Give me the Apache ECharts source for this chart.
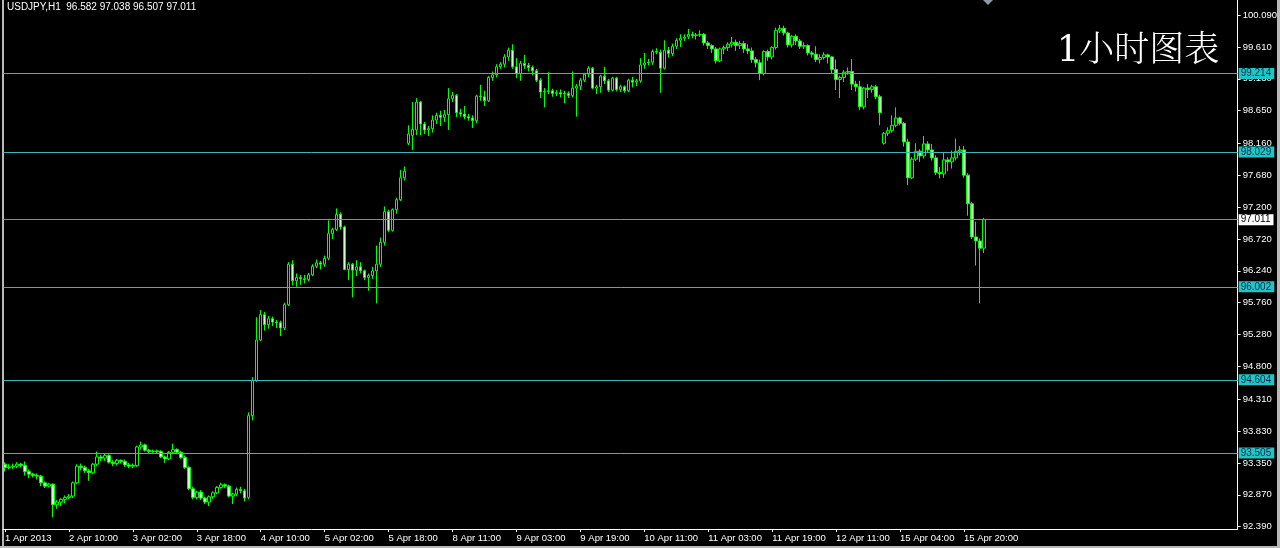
<!DOCTYPE html>
<html><head><meta charset="utf-8">
<script src="https://cdn.jsdelivr.net/npm/echarts@6/dist/echarts.min.js"></script>
<style>html,body{margin:0;padding:0;background:#000;}#c{width:1280px;height:548px;}</style>
</head><body><div id="c"></div>
<script>
const symbolTitle = 'USDJPY,H1  96.582 97.038 96.507 97.011';
const chartTitle = '1小时图表';
const xTickLabels = ['1 Apr 2013','2 Apr 10:00','3 Apr 02:00','3 Apr 18:00','4 Apr 10:00','5 Apr 02:00','5 Apr 18:00','8 Apr 11:00','9 Apr 03:00','9 Apr 19:00','10 Apr 11:00','11 Apr 03:00','11 Apr 19:00','12 Apr 11:00','15 Apr 04:00','15 Apr 20:00'];
const barsPerTick = 16;
const slotCount = 309;
const yTickValues = [92.39,92.87,93.35,93.83,94.31,94.80,95.28,95.76,96.24,96.72,97.20,97.68,98.16,98.65,99.13,99.61,100.09];
const levelLines = [99.214, 98.029, 96.002, 94.604, 93.505];
const bidLine = 97.011;

const opens = [
93.33,93.28,93.29,93.30,93.33,93.31,93.22,93.18,93.16,93.15,
93.05,93.00,93.03,92.72,92.76,92.80,92.83,92.85,93.05,93.30,
93.28,93.23,93.20,93.33,93.44,93.42,93.46,93.36,93.34,93.39,
93.37,93.32,93.30,93.31,93.59,93.62,93.54,93.52,93.53,93.52,
93.44,93.41,93.51,93.55,93.51,93.43,93.28,92.96,92.83,92.91,
92.82,92.76,92.84,92.90,92.98,93.02,93.00,92.85,92.88,92.95,
92.93,92.83,94.06,94.59,95.20,95.58,95.43,95.52,95.47,95.46,
95.38,95.73,96.34,96.09,96.14,96.12,96.11,96.18,96.31,96.36,
96.34,96.43,96.80,96.86,97.09,96.90,96.26,96.34,96.25,96.30,
96.24,96.14,96.17,96.24,96.34,96.67,97.13,96.85,97.16,97.31,
97.64,98.16,98.28,98.36,98.78,98.45,98.36,98.38,98.51,98.58,
98.55,98.59,98.83,98.88,98.62,98.60,98.56,98.54,98.50,98.87,
98.86,98.80,99.15,99.19,99.31,99.35,99.46,99.56,99.31,99.21,
99.36,99.33,99.30,99.25,99.11,98.93,98.94,98.95,98.91,98.92,
98.90,98.91,98.88,98.99,99.02,99.11,99.20,99.29,98.99,99.01,
99.17,99.10,98.96,99.14,98.97,99.01,98.95,99.11,99.08,99.10,
99.34,99.37,99.38,99.54,99.53,99.29,99.56,99.51,99.62,99.71,
99.74,99.76,99.80,99.78,99.79,99.80,99.67,99.63,99.58,99.40,
99.58,99.60,99.65,99.68,99.63,99.66,99.58,99.55,99.42,99.37,
99.21,99.54,99.46,99.60,99.86,99.89,99.82,99.64,99.77,99.70,
99.62,99.63,99.52,99.50,99.42,99.45,99.49,99.46,99.27,99.12,
99.15,99.23,99.24,99.05,99.01,98.71,98.99,98.97,99.01,98.86,
98.16,98.31,98.35,98.43,98.54,98.46,98.18,97.64,97.92,98.04,
97.97,98.15,98.06,97.94,97.72,97.70,97.91,97.88,97.94,98.04,
98.06,97.68,97.25,96.75,96.69,96.582];
const highs = [
93.36,93.33,93.34,93.36,93.35,93.37,93.25,93.20,93.19,93.17,
93.07,93.05,93.04,92.79,92.82,92.86,92.88,93.07,93.33,93.34,
93.31,93.26,93.35,93.52,93.47,93.49,93.48,93.39,93.41,93.40,
93.40,93.35,93.34,93.61,93.67,93.64,93.56,93.55,93.55,93.54,
93.46,93.53,93.64,93.57,93.53,93.46,93.30,92.99,92.93,92.94,
92.84,92.86,92.92,93.00,93.05,93.04,93.02,92.90,92.98,92.99,
92.96,94.11,94.64,95.54,95.65,95.62,95.56,95.55,95.50,95.49,
95.76,96.37,96.40,96.20,96.18,96.18,96.21,96.34,96.41,96.39,
96.47,97.00,96.89,97.18,97.12,96.92,96.37,96.36,96.40,96.37,
96.26,96.20,96.30,96.62,96.74,97.21,97.16,97.18,97.34,97.76,
97.81,98.43,98.78,98.84,98.80,98.48,98.42,98.58,98.62,98.65,
98.66,98.99,98.93,98.90,98.68,98.72,98.60,98.58,98.89,99.04,
98.95,99.17,99.24,99.35,99.38,99.50,99.60,99.65,99.44,99.40,
99.49,99.37,99.33,99.28,99.14,98.99,99.23,98.98,98.96,98.97,
98.95,98.94,99.24,99.05,99.14,99.22,99.32,99.31,99.04,99.19,
99.31,99.13,99.16,99.16,99.04,99.03,99.13,99.16,99.13,99.44,
99.52,99.43,99.57,99.59,99.57,99.71,99.61,99.66,99.74,99.80,
99.80,99.88,99.84,99.82,99.86,99.82,99.70,99.65,99.61,99.60,
99.63,99.68,99.76,99.72,99.70,99.70,99.65,99.60,99.46,99.42,
99.56,99.57,99.62,99.90,99.94,99.93,99.84,99.79,99.80,99.73,
99.68,99.65,99.55,99.62,99.50,99.53,99.51,99.47,99.42,99.18,
99.26,99.30,99.43,99.10,99.10,99.01,99.05,99.04,99.04,98.89,
98.33,98.40,98.58,98.70,98.56,98.48,98.23,97.95,98.16,98.07,
98.27,98.19,98.15,97.98,97.80,98.03,97.95,98.05,98.23,98.12,
98.12,97.71,97.28,96.98,96.73,97.038];
const lows = [
93.22,93.25,93.26,93.27,93.28,93.16,93.12,93.13,93.10,93.00,
92.97,92.98,92.53,92.66,92.70,92.74,92.80,92.82,93.03,93.24,
93.20,93.08,93.18,93.30,93.38,93.38,93.34,93.30,93.31,93.34,
93.29,93.27,93.27,93.29,93.55,93.52,93.49,93.50,93.49,93.42,
93.35,93.39,93.49,93.48,93.41,93.26,92.94,92.80,92.80,92.79,
92.73,92.70,92.81,92.88,92.96,92.97,92.83,92.73,92.85,92.89,
92.77,92.80,93.99,94.57,95.18,95.34,95.37,95.41,95.38,95.26,
95.35,95.71,96.02,96.00,96.03,96.05,96.08,96.16,96.28,96.26,
96.30,96.40,96.72,96.84,96.86,96.25,96.10,95.84,96.16,96.20,
96.10,95.94,96.12,95.75,96.30,96.62,96.82,96.83,97.10,97.29,
97.60,98.13,98.06,98.28,98.28,98.30,98.27,98.32,98.45,98.42,
98.48,98.36,98.78,98.55,98.56,98.52,98.50,98.39,98.46,98.80,
98.72,98.78,99.10,99.15,99.28,99.30,99.40,99.28,99.14,99.10,
99.28,99.24,99.18,99.08,98.84,98.70,98.90,98.86,98.87,98.85,
98.76,98.84,98.85,98.56,98.96,99.08,99.15,98.97,98.90,98.92,
99.05,98.93,98.94,98.94,98.93,98.92,98.93,99.00,99.02,99.07,
99.28,99.33,99.34,99.50,98.92,99.27,99.45,99.47,99.58,99.61,
99.70,99.73,99.74,99.72,99.76,99.63,99.58,99.52,99.36,99.38,
99.50,99.55,99.60,99.55,99.58,99.52,99.50,99.37,99.30,99.11,
99.18,99.40,99.42,99.57,99.82,99.78,99.60,99.60,99.64,99.58,
99.58,99.48,99.45,99.38,99.36,99.42,99.36,99.20,98.96,98.84,
99.08,99.19,98.96,98.94,98.66,98.67,98.84,98.92,98.82,98.43,
98.14,98.27,98.32,98.40,98.43,98.11,97.53,97.62,97.89,97.88,
97.93,98.02,97.90,97.68,97.63,97.64,97.74,97.78,97.90,97.98,
97.64,97.07,96.72,96.32,95.75,96.507];
const closes = [
93.28,93.29,93.30,93.33,93.31,93.22,93.18,93.16,93.15,93.05,
93.00,93.03,92.72,92.76,92.80,92.83,92.85,93.05,93.30,93.28,
93.23,93.20,93.33,93.44,93.42,93.46,93.36,93.34,93.39,93.37,
93.32,93.30,93.31,93.59,93.62,93.54,93.52,93.53,93.52,93.44,
93.41,93.51,93.55,93.51,93.43,93.28,92.96,92.83,92.91,92.82,
92.76,92.84,92.90,92.98,93.02,93.00,92.85,92.88,92.95,92.93,
92.82,94.06,94.59,95.20,95.58,95.43,95.52,95.47,95.46,95.38,
95.73,96.34,96.09,96.14,96.12,96.11,96.18,96.31,96.36,96.34,
96.43,96.80,96.86,97.09,96.90,96.26,96.34,96.25,96.30,96.24,
96.14,96.17,96.24,96.34,96.67,97.13,96.85,97.16,97.31,97.64,
97.74,98.30,98.37,98.78,98.45,98.36,98.38,98.51,98.58,98.55,
98.59,98.83,98.88,98.62,98.60,98.56,98.54,98.50,98.87,98.86,
98.80,99.15,99.19,99.31,99.35,99.46,99.56,99.31,99.21,99.36,
99.33,99.30,99.25,99.11,98.93,98.94,98.95,98.91,98.92,98.90,
98.91,98.88,98.99,99.02,99.11,99.20,99.29,98.99,99.01,99.17,
99.10,98.96,99.14,98.97,99.01,98.95,99.11,99.08,99.10,99.34,
99.37,99.38,99.54,99.53,99.29,99.56,99.51,99.62,99.71,99.74,
99.76,99.80,99.78,99.79,99.80,99.67,99.63,99.58,99.40,99.58,
99.60,99.65,99.68,99.63,99.66,99.58,99.55,99.42,99.37,99.21,
99.54,99.46,99.60,99.86,99.89,99.82,99.64,99.77,99.70,99.62,
99.63,99.52,99.50,99.42,99.45,99.49,99.46,99.27,99.12,99.15,
99.23,99.24,99.05,99.01,98.71,98.99,98.97,99.01,98.86,98.62,
98.31,98.35,98.43,98.54,98.46,98.18,97.64,97.92,98.04,97.97,
98.15,98.06,97.94,97.72,97.70,97.91,97.88,97.94,98.04,98.06,
97.68,97.25,96.75,96.69,96.58,97.011];

const categories = [];
for (let i = 0; i < slotCount; i++) categories.push(String(i));
const candleData = opens.map((o, i) => [o, closes[i], lows[i], highs[i]]);

const isTick = (idx) => idx % barsPerTick === 0 && (idx / barsPerTick) < xTickLabels.length;

const cyanLabel = {show:true, position:'end', distance:1, formatter:'{b}',
  fontFamily:'Liberation Sans', fontSize:10, lineHeight:11, padding:[0,3,0,2],
  backgroundColor:'#22c4c4', color:'#0c2c4c'};
const markData = levelLines.map(v => ({name:v.toFixed(3), yAxis:v,
  lineStyle:{color:'#3ab8b8', width:1, type:'solid'}, label:cyanLabel}));
markData.push({name:bidLine.toFixed(3), yAxis:bidLine, lineStyle:{color:'#8c8c8c', width:1, type:'solid'},
  label:Object.assign({}, cyanLabel, {backgroundColor:'#ffffff', color:'#000000'})});

const chart = echarts.init(document.getElementById('c'), null, {renderer:'canvas'});
chart.setOption({
  backgroundColor:'#000000',
  animation:false,
  grid:{left:3, right:41, top:0, bottom:19, containLabel:false},
  xAxis:{type:'category', data:categories, boundaryGap:true,
    axisLine:{show:true, lineStyle:{color:'#ffffff', width:1}},
    axisTick:{show:true, interval:isTick, alignWithLabel:true, length:3, lineStyle:{color:'#ffffff'}},
    axisLabel:{show:true, interval:isTick, align:'left', margin:4, color:'#ffffff',
      fontFamily:'Liberation Sans', fontSize:9.5,
      formatter:(v, idx)=> isTick(idx) ? xTickLabels[idx / barsPerTick] : ''},
    splitLine:{show:false}},
  yAxis:{type:'value', position:'right', min:92.355, max:100.316, scale:true,
    axisLine:{show:true, lineStyle:{color:'#ffffff', width:1}},
    axisTick:{show:true, length:3, customValues:yTickValues, lineStyle:{color:'#ffffff'}},
    axisLabel:{show:true, customValues:yTickValues, margin:5, color:'#ffffff',
      fontFamily:'Liberation Sans', fontSize:9.5, formatter:v=>v.toFixed(3)},
    splitLine:{show:false}},
  series:[{type:'candlestick', data:candleData, barWidth:3,
    itemStyle:{color:'#000000', color0:'#c8ffc8', borderColor:'#00ff00', borderColor0:'#00ff00', borderWidth:1},
    markLine:{symbol:'none', silent:true, animation:false, data:markData}}],
  graphic:[
    {type:'text', left:7, top:2, style:{text:symbolTitle, fill:'#ffffff', font:'10px "Liberation Sans"'}},
    {type:'text', left:1057, top:34, style:{text:chartTitle, fill:'#ffffff', font:'300 35px "DejaVu Serif", "Noto Serif CJK SC", "Noto Sans CJK SC"'}},
    {type:'rect', shape:{x:2, y:0, width:2, height:548}, style:{fill:'#b8b8b8'}},
    {type:'rect', shape:{x:0, y:546, width:1280, height:2}, style:{fill:'#b8b8b8'}},
    {type:'rect', shape:{x:1277, y:0, width:3, height:548}, style:{fill:'#b8b8b8'}},
    {type:'polygon', shape:{points:[[983,0],[993,0],[988,5]]}, style:{fill:'#9098a8'}}
  ]
});
</script></body></html>
